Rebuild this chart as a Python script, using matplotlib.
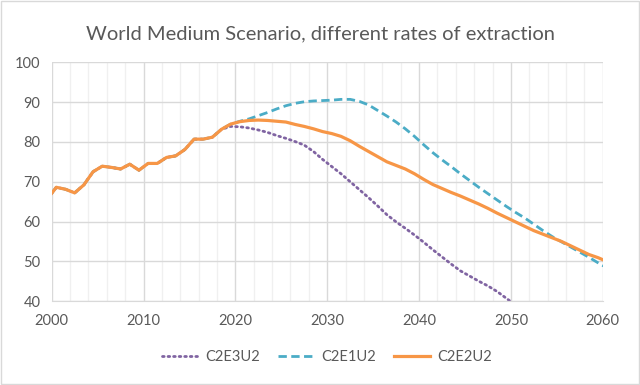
import numpy as np
import matplotlib
matplotlib.use("Agg")
import matplotlib.pyplot as plt
from matplotlib.patches import Rectangle

# x positions: first point at 2000, then mid-year points
years = [2000.0] + [y + 0.5 for y in range(2000, 2061)]

# shared history 2000 .. 2018.5
history = [67.1, 68.6, 68.1, 67.2, 69.2, 72.5, 73.9, 73.6, 73.2, 74.4, 72.9,
           74.6, 74.6, 76.1, 76.5, 78.1, 80.7, 80.7, 81.2, 83.2]

# projections 2019.5 .. 2060.5
c2e2u2_proj = [84.5, 85.1, 85.4, 85.5, 85.4, 85.2, 85.0, 84.4, 83.9, 83.3,
               82.6, 82.1, 81.4, 80.3, 78.9, 77.6, 76.3, 75.0, 74.1, 73.2,
               72.0, 70.6, 69.3, 68.3, 67.3, 66.4, 65.4, 64.4, 63.3, 62.1,
               61.0, 59.9, 58.8, 57.7, 56.8, 55.9, 55.0, 53.9, 52.8, 51.7,
               50.9, 49.9]
c2e1u2_proj = [84.5, 85.2, 85.8, 86.6, 87.4, 88.3, 89.1, 89.7, 90.1, 90.3,
               90.4, 90.5, 90.7, 90.7, 90.2, 89.3, 87.9, 86.5, 85.0, 83.3,
               81.4, 79.3, 77.3, 75.5, 73.8, 72.0, 70.3, 68.6, 67.0, 65.4,
               63.8, 62.3, 60.9, 59.3, 57.7, 56.2, 54.9, 53.6, 52.3, 51.0,
               49.6, 48.3]
c2e3u2_proj = [83.9, 83.8, 83.5, 83.0, 82.4, 81.6, 80.9, 80.1, 79.2, 77.6,
               75.6, 73.8, 72.0, 70.0, 68.0, 66.0, 63.9, 61.7, 59.9, 58.3,
               56.6, 54.8, 52.9, 51.1, 49.3, 47.6, 46.3, 45.0, 43.8, 42.4,
               40.7, 39.0]

c2e2u2 = history + c2e2u2_proj
c2e1u2 = history + c2e1u2_proj
c2e3u2 = history + c2e3u2_proj

text_col = "#595959"
plt.rcParams["font.family"] = ["Lato", "DejaVu Sans"]

fig = plt.figure(figsize=(6.4, 3.85), dpi=100)
ax = fig.add_axes([0.0808, 0.218, 0.861, 0.620])

ax.plot(years[:len(c2e3u2)], c2e3u2, color="#8064A2", lw=2.0,
        linestyle=(0, (0.6, 1.4)), dash_capstyle="round", label="C2E3U2")
ax.plot(years[:len(c2e1u2)], c2e1u2, color="#4BACC6", lw=2.0,
        linestyle=(0, (3, 1.6)), label="C2E1U2")
ax.plot(years[:len(c2e2u2)], c2e2u2, color="#F79646", lw=2.3,
        label="C2E2U2")

ax.set_xlim(2000, 2060)
ax.set_ylim(40, 100)
ax.set_xticks(range(2000, 2061, 10))
ax.set_xticks(range(2000, 2061, 2), minor=True)
ax.set_yticks(range(40, 101, 10))
ax.grid(which="major", color="#D9D9D9", lw=1.0)
ax.grid(which="minor", axis="x", color="#F0F0F0", lw=1.0)
ax.set_axisbelow(True)
for s in ["top", "right", "left"]:
    ax.spines[s].set_visible(False)
ax.spines["bottom"].set_color("#D9D9D9")
ax.tick_params(which="both", length=0, colors=text_col, labelsize=10.5)
ax.tick_params(axis="x", pad=9)
ax.tick_params(axis="y", pad=8)

fig.suptitle("World Medium Scenario, different rates of extraction",
             y=0.935, fontsize=14.5, color=text_col)

ax.legend(loc="center", bbox_to_anchor=(0.5, -0.235), ncol=3, frameon=False,
          fontsize=10.5, labelcolor=text_col, handlelength=2.5,
          columnspacing=1.2, handletextpad=0.5)

fig.patches.append(Rectangle((0.001, 0.002), 0.997, 0.995, transform=fig.transFigure,
                             fill=False, edgecolor="#D9D9D9", lw=1.0))

fig.savefig("out.png", dpi=100)
